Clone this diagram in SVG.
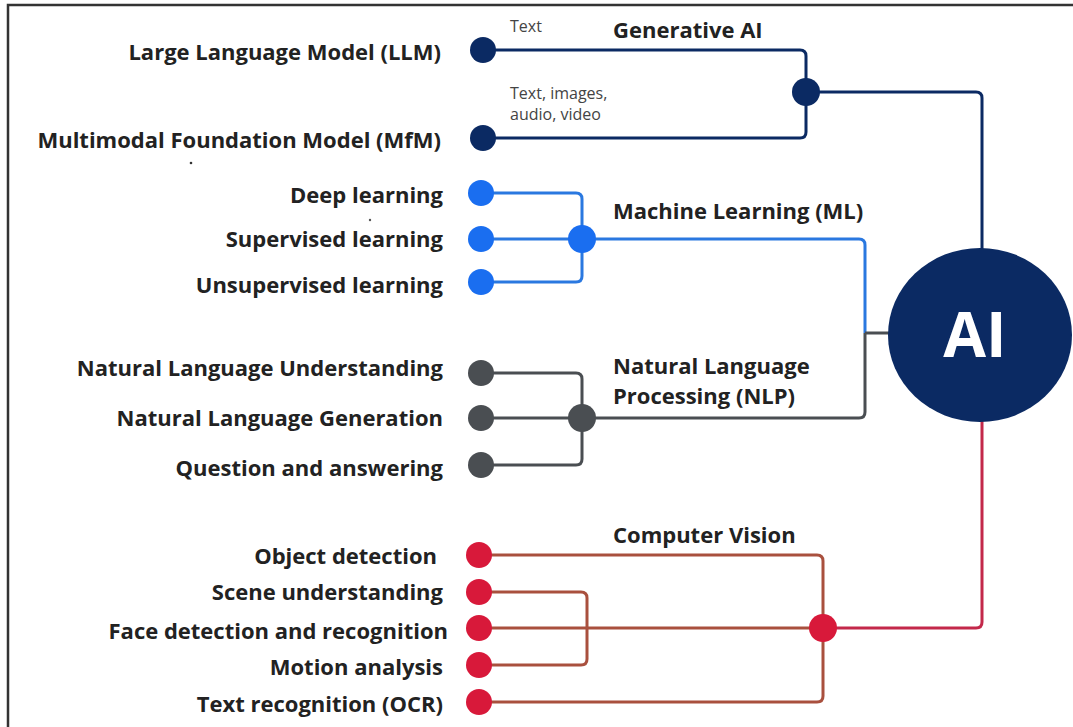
<svg xmlns="http://www.w3.org/2000/svg" width="1073" height="727" viewBox="0 0 1073 727">
<style>
.lbl{font-family:"Open Sans","Liberation Sans",sans-serif;font-weight:700;font-size:22px;fill:#222;text-anchor:end}
.hdr{font-family:"Open Sans","Liberation Sans",sans-serif;font-weight:700;font-size:22px;fill:#222}
.sm{font-family:"Open Sans","Liberation Sans",sans-serif;font-size:16px;fill:#444}
.ln{fill:none;stroke-width:3;stroke-linejoin:round}
.gen{fill:#0b2a63}.ml{fill:#1a6ef0}.nlp{fill:#4a4e52}.cv{fill:#d8193a}
</style>
<rect x="0" y="0" width="1073" height="727" fill="#fff"/>
<path d="M8,727 V5 H1073" fill="none" stroke="#333" stroke-width="2.5"/>
<g id="connectors">
<path class="ln" stroke="#0b2a63" d="M483,50 H800 Q806,50 806,56 V132 Q806,138 800,138 H483"/>
<path class="ln" stroke="#0b2a63" d="M806,92 H976 Q982,92 982,98 V250"/>
<path class="ln" stroke="#2a78e0" d="M481,193 H576 Q582,193 582,199 V276 Q582,282 576,282 H481 M481,239 H859 Q865,239 865,245 V333"/>
<path class="ln" stroke="#4a4e52" d="M481,373 H576 Q582,373 582,379 V459 Q582,465 576,465 H481 M481,418 H859 Q865,418 865,412 V333 M865,333 H890"/>
<path class="ln" stroke="#c3284a" d="M982,420 V622 Q982,628 976,628 H823"/>
<path class="ln" stroke="#a9503e" d="M479,555 H817 Q823,555 823,561 V696 Q823,702 817,702 H479 M479,628 H823 M479,592 H581 Q587,592 587,598 V659 Q587,665 581,665 H479"/>
</g>
<g id="ai"><ellipse cx="980" cy="335" rx="92" ry="87" fill="#0b2a63"/><text x="975" y="357" text-anchor="middle" font-family="Open Sans,Liberation Sans,sans-serif" font-weight="700" font-size="62" fill="#fff">AI</text></g>
<g id="genai">
<text class="hdr" x="613" y="38">Generative AI</text>
<text class="sm" x="510" y="32">Text</text>
<text class="sm" x="510" y="99">Text, images,</text>
<text class="sm" x="510" y="120">audio, video</text>
<circle class="gen" cx="806" cy="92" r="14"/>
</g>
<g id="llm"><circle class="gen" cx="483" cy="50" r="13"/><text class="lbl" x="441" y="60">Large Language Model (LLM)</text></g>
<g id="mfm"><circle class="gen" cx="483" cy="138" r="13"/><text class="lbl" x="441" y="148">Multimodal Foundation Model (MfM)</text></g>
<g id="ml"><text class="hdr" x="613" y="219">Machine Learning (ML)</text><circle class="ml" cx="582" cy="239" r="14"/></g>
<g id="deep"><circle class="ml" cx="481" cy="193" r="13"/><text class="lbl" x="443" y="203">Deep learning</text></g>
<g id="sup"><circle class="ml" cx="481" cy="239" r="13"/><text class="lbl" x="443" y="247">Supervised learning</text></g>
<g id="unsup"><circle class="ml" cx="481" cy="282" r="13"/><text class="lbl" x="443" y="293">Unsupervised learning</text></g>
<g id="nlp"><text class="hdr" x="613" y="374">Natural Language</text><text class="hdr" x="613" y="404">Processing (NLP)</text><circle class="nlp" cx="582" cy="418" r="14"/></g>
<g id="nlu"><circle class="nlp" cx="481" cy="373" r="13"/><text class="lbl" x="443" y="376">Natural Language Understanding</text></g>
<g id="nlg"><circle class="nlp" cx="481" cy="418" r="13"/><text class="lbl" x="443" y="426">Natural Language Generation</text></g>
<g id="qa"><circle class="nlp" cx="481" cy="465" r="13"/><text class="lbl" x="443" y="476">Question and answering</text></g>
<g id="cv"><text class="hdr" x="613" y="543">Computer Vision</text><circle class="cv" cx="823" cy="628" r="14"/></g>
<g id="od"><circle class="cv" cx="479" cy="555" r="13"/><text class="lbl" x="437" y="564">Object detection</text></g>
<g id="su"><circle class="cv" cx="479" cy="592" r="13"/><text class="lbl" x="443" y="600">Scene understanding</text></g>
<g id="fd"><circle class="cv" cx="479" cy="628" r="13"/><text class="lbl" x="448" y="639">Face detection and recognition</text></g>
<g id="ma"><circle class="cv" cx="479" cy="665" r="13"/><text class="lbl" x="443" y="675">Motion analysis</text></g>
<g id="ocr"><circle class="cv" cx="479" cy="702" r="13"/><text class="lbl" x="443" y="712">Text recognition (OCR)</text></g>
<circle cx="191" cy="163" r="1.3" fill="#333"/>
<circle cx="370" cy="220" r="1.2" fill="#555"/>
</svg>
